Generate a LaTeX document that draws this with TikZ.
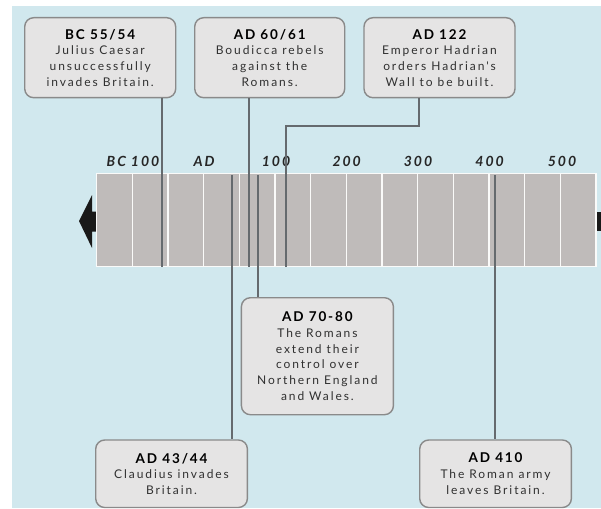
\documentclass[tikz,border=0pt]{standalone}
\usepackage{fontspec}
\setmainfont{Lato}
\newfontfamily\bodyfont[LetterSpace=16]{Lato}
\newfontfamily\titlefont[LetterSpace=14]{Lato}
\definecolor{bgblue}{HTML}{D1E8EE}
\definecolor{boxfill}{HTML}{E5E4E4}
\definecolor{boxline}{HTML}{8A8A8A}
\definecolor{connline}{HTML}{656A6E}
\definecolor{barfill}{HTML}{BFBBBA}
\definecolor{bodytext}{HTML}{303030}
\newcommand\evtitle[1]{{\titlefont\bfseries\color{black}\fontsize{13.5}{15.7}\selectfont #1}}
\tikzset{
  evbox/.style={draw=boxline, line width=1.4pt, fill=boxfill, rounded corners=9pt,
    anchor=north west, align=center, inner sep=2pt, text=bodytext,
    font=\bodyfont\fontsize{12}{15.7}\selectfont},
  conn/.style={draw=connline, line width=2pt},
  seg/.style={fill=barfill, draw=white!92!barfill, line width=1.3pt},
  tl/.style={anchor=base, inner sep=0pt, text=black!85,
    font=\titlefont\bfseries\itshape\fontsize{14}{15}\selectfont},
}
\begin{document}
\begin{tikzpicture}[x=1pt,y=-1pt]
\useasboundingbox (0,0) rectangle (601,508);
\fill[white] (0,0) rectangle (601,508);
\fill[bgblue] (12,6) rectangle (601,508);
% arrows
\fill[black!90] (79,221) -- (92,195) -- (92,211.5) -- (98,211.5) -- (98,231.5) -- (92,231.5) -- (92,248) -- cycle;
\fill[black!90] (597,211.7) rectangle (601,230.5);
% bar
\foreach \i in {0,...,13}
  \draw[seg] ({96.7+\i*35.664},173.3) rectangle ({96.7+(\i+1)*35.664},266.7);
% scale labels
\node[tl] (tbc) at (133,166) {BC 100};
\node[tl] (tad) at (204,166) {AD};
\node[tl] (t100) at (276,166) {100};
\node[tl] (t200) at (346.7,166) {200};
\node[tl] (t300) at (418,166) {300};
\node[tl] (t400) at (489.6,166) {400};
\node[tl] (t500) at (562,166) {500};
% boxes
\node[evbox, minimum width=151pt, minimum height=80pt] (b1) at (24,17)
  {\evtitle{BC 55/54}\\Julius Caesar\\unsuccessfully\\invades Britain.};
\node[evbox, minimum width=150pt, minimum height=80pt] (b2) at (194,17)
  {\evtitle{AD 60/61}\\Boudicca rebels\\against the\\Romans.};
\node[evbox, minimum width=151pt, minimum height=80pt] (b3) at (363.3,17)
  {\evtitle{AD 122}\\Emperor Hadrian\\orders Hadrian's\\Wall to be built.};
\node[evbox, minimum width=152pt, minimum height=117pt] (b4) at (240.7,297)
  {\evtitle{AD 70-80}\\The Romans\\extend their\\control over\\Northern England\\and Wales.};
\node[evbox, minimum width=151.7pt, minimum height=67.5pt] (b5) at (95,439.3)
  {\evtitle{AD 43/44}\\Claudius invades\\Britain.};
\node[evbox, minimum width=151.7pt, minimum height=67.5pt] (b6) at (419,439.3)
  {\evtitle{AD 410}\\The Roman army\\leaves Britain.};
% connectors
\coordinate (c1) at (161.7,266.5);
\coordinate (c2) at (249.3,266.5);
\coordinate (c3) at (285.7,266.5);
\coordinate (c3t) at (419.3,126);
\coordinate (c4) at (257.7,175);
\coordinate (c5) at (231.7,175);
\coordinate (c6) at (495,175);
\draw[conn] (b1.south -| c1) -- (c1);
\draw[conn] (b2.south -| c2) -- (c2);
\draw[conn] (b3.south -| c3t) -- (c3t) -| (c3);
\draw[conn] (c4) -- (c4 |- b4.north);
\draw[conn] (c5) -- (c5 |- b5.north);
\draw[conn] (c6) -- (c6 |- b6.north);
\end{tikzpicture}
\end{document}
